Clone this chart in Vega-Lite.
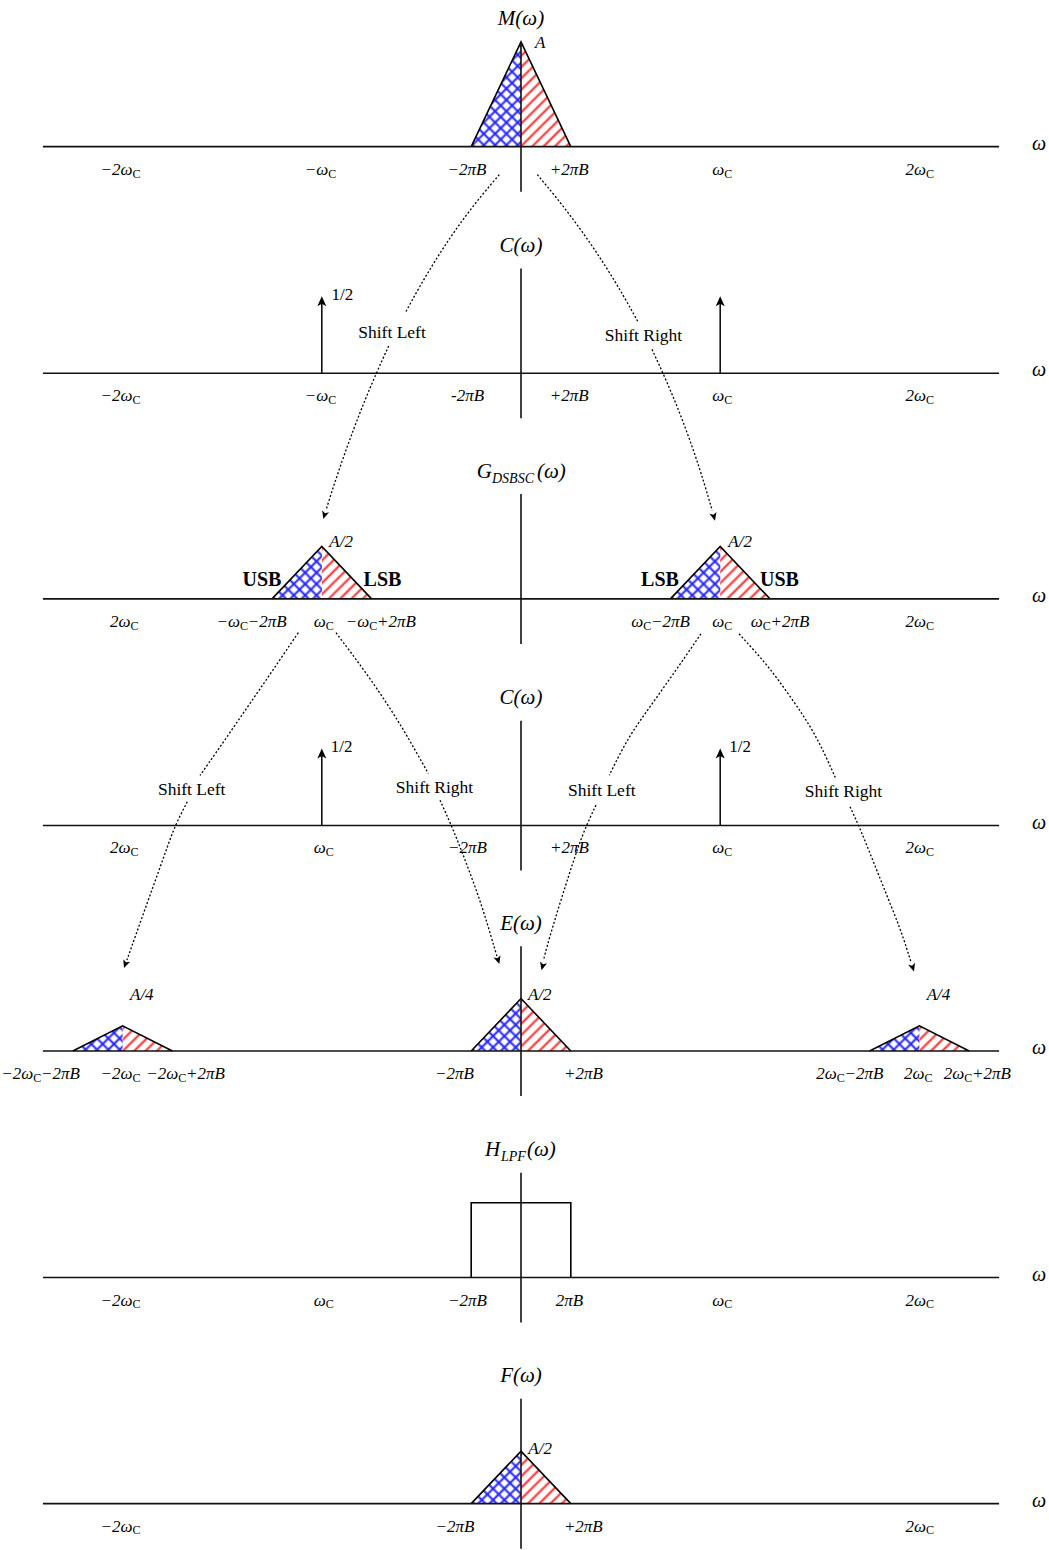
{
"$schema":"https://vega.github.io/schema/vega-lite/v6.json",
"width":1049,"height":1550,
"autosize":{"type":"fit","contains":"padding"},
"padding":0,
"background":"white",
"config":{"view":{"stroke":null}},
"datasets":{
"tri1":[{"id":"M","side":"L","x":-0.25,"y":12.948,"y2":12.948},{"id":"M","side":"L","x":0,"y":13.948,"y2":12.948},{"id":"M","side":"R","x":0,"y":13.948,"y2":12.948},{"id":"M","side":"R","x":0.25,"y":12.948,"y2":12.948}],
"tri2":[{"id":"GL","side":"L","x":-1.25,"y":8.633,"y2":8.633},{"id":"GL","side":"L","x":-1,"y":9.133,"y2":8.633},{"id":"GL","side":"R","x":-1,"y":9.133,"y2":8.633},{"id":"GL","side":"R","x":-0.75,"y":8.633,"y2":8.633},
{"id":"GR","side":"L","x":0.75,"y":8.633,"y2":8.633},{"id":"GR","side":"L","x":1,"y":9.133,"y2":8.633},{"id":"GR","side":"R","x":1,"y":9.133,"y2":8.633},{"id":"GR","side":"R","x":1.25,"y":8.633,"y2":8.633},
{"id":"E0","side":"L","x":-0.25,"y":4.319,"y2":4.319},{"id":"E0","side":"L","x":0,"y":4.819,"y2":4.319},{"id":"E0","side":"R","x":0,"y":4.819,"y2":4.319},{"id":"E0","side":"R","x":0.25,"y":4.319,"y2":4.319},
{"id":"F","side":"L","x":-0.25,"y":0,"y2":0},{"id":"F","side":"L","x":0,"y":0.5,"y2":0},{"id":"F","side":"R","x":0,"y":0.5,"y2":0},{"id":"F","side":"R","x":0.25,"y":0,"y2":0}],
"tri4":[{"id":"EL","side":"L","x":-2.25,"y":4.319,"y2":4.319},{"id":"EL","side":"L","x":-2,"y":4.559,"y2":4.319},{"id":"EL","side":"R","x":-2,"y":4.559,"y2":4.319},{"id":"EL","side":"R","x":-1.75,"y":4.319,"y2":4.319},
{"id":"ER","side":"L","x":1.75,"y":4.319,"y2":4.319},{"id":"ER","side":"L","x":2,"y":4.559,"y2":4.319},{"id":"ER","side":"R","x":2,"y":4.559,"y2":4.319},{"id":"ER","side":"R","x":2.25,"y":4.319,"y2":4.319}],
"outline":[
{"id":"M","seq":1,"x":-0.25,"y":12.948},{"id":"M","seq":2,"x":0,"y":13.948},{"id":"M","seq":3,"x":0.25,"y":12.948},
{"id":"GL","seq":1,"x":-1.25,"y":8.633},{"id":"GL","seq":2,"x":-1,"y":9.133},{"id":"GL","seq":3,"x":-0.75,"y":8.633},
{"id":"GR","seq":1,"x":0.75,"y":8.633},{"id":"GR","seq":2,"x":1,"y":9.133},{"id":"GR","seq":3,"x":1.25,"y":8.633},
{"id":"EL","seq":1,"x":-2.25,"y":4.319},{"id":"EL","seq":2,"x":-2,"y":4.559},{"id":"EL","seq":3,"x":-1.75,"y":4.319},
{"id":"E0","seq":1,"x":-0.25,"y":4.319},{"id":"E0","seq":2,"x":0,"y":4.819},{"id":"E0","seq":3,"x":0.25,"y":4.319},
{"id":"ER","seq":1,"x":1.75,"y":4.319},{"id":"ER","seq":2,"x":2,"y":4.559},{"id":"ER","seq":3,"x":2.25,"y":4.319},
{"id":"F","seq":1,"x":-0.25,"y":0},{"id":"F","seq":2,"x":0,"y":0.5},{"id":"F","seq":3,"x":0.25,"y":0},
{"id":"HB","seq":1,"x":-0.25,"y":2.157},{"id":"HB","seq":2,"x":-0.25,"y":2.871},{"id":"HB","seq":3,"x":0.25,"y":2.871},{"id":"HB","seq":4,"x":0.25,"y":2.157}],
"rules":[
{"x":-2.4,"x2":2.4,"y":12.948,"y2":12.948},{"x":-2.4,"x2":2.4,"y":10.786,"y2":10.786},{"x":-2.4,"x2":2.4,"y":8.633,"y2":8.633},{"x":-2.4,"x2":2.4,"y":6.471,"y2":6.471},{"x":-2.4,"x2":2.4,"y":4.319,"y2":4.319},{"x":-2.4,"x2":2.4,"y":2.157,"y2":2.157},{"x":-2.4,"x2":2.4,"y":0,"y2":0},
{"x":0,"x2":0,"y":12.518,"y2":13.948},{"x":0,"x2":0,"y":10.356,"y2":11.786},{"x":0,"x2":0,"y":8.203,"y2":9.633},{"x":0,"x2":0,"y":6.041,"y2":7.471},{"x":0,"x2":0,"y":3.889,"y2":5.319},{"x":0,"x2":0,"y":1.727,"y2":3.157},{"x":0,"x2":0,"y":-0.43,"y2":1.0},
{"x":-1,"x2":-1,"y":10.786,"y2":11.466},{"x":1,"x2":1,"y":10.786,"y2":11.466},{"x":-1,"x2":-1,"y":6.471,"y2":7.151},{"x":1,"x2":1,"y":6.471,"y2":7.151}],
"curves":[
{"id":"c1a","seq":1,"x":-0.1089,"y":12.681},{"id":"c1a","seq":2,"x":-0.1948,"y":12.49},{"id":"c1a","seq":3,"x":-0.2781,"y":12.288},{"id":"c1a","seq":4,"x":-0.3589,"y":12.072},{"id":"c1a","seq":5,"x":-0.4367,"y":11.844},{"id":"c1a","seq":6,"x":-0.512,"y":11.603},{"id":"c1a","seq":7,"x":-0.5803,"y":11.366},
{"id":"c1b","seq":1,"x":-0.6642,"y":11.046},{"id":"c1b","seq":2,"x":-0.7304,"y":10.77},{"id":"c1b","seq":3,"x":-0.7871,"y":10.513},{"id":"c1b","seq":4,"x":-0.8414,"y":10.249},{"id":"c1b","seq":5,"x":-0.8936,"y":9.974},{"id":"c1b","seq":6,"x":-0.9443,"y":9.69},{"id":"c1b","seq":7,"x":-0.9789,"y":9.48},
{"id":"c2a","seq":1,"x":0.0818,"y":12.681},{"id":"c2a","seq":2,"x":0.1782,"y":12.462},{"id":"c2a","seq":3,"x":0.2701,"y":12.235},{"id":"c2a","seq":4,"x":0.3579,"y":12.001},{"id":"c2a","seq":5,"x":0.4413,"y":11.758},{"id":"c2a","seq":6,"x":0.5201,"y":11.508},{"id":"c2a","seq":7,"x":0.5889,"y":11.271},
{"id":"c2b","seq":1,"x":0.6576,"y":11.014},{"id":"c2b","seq":2,"x":0.7229,"y":10.745},{"id":"c2b","seq":3,"x":0.7776,"y":10.499},{"id":"c2b","seq":4,"x":0.8288,"y":10.248},{"id":"c2b","seq":5,"x":0.877,"y":9.99},{"id":"c2b","seq":6,"x":0.9217,"y":9.727},{"id":"c2b","seq":7,"x":0.9598,"y":9.476},
{"id":"c3a","seq":1,"x":-1.118,"y":8.31},{"id":"c3a","seq":2,"x":-1.1998,"y":8.081},{"id":"c3a","seq":3,"x":-1.2801,"y":7.857},{"id":"c3a","seq":4,"x":-1.363,"y":7.629},{"id":"c3a","seq":5,"x":-1.4458,"y":7.4},{"id":"c3a","seq":6,"x":-1.5286,"y":7.171},{"id":"c3a","seq":7,"x":-1.6114,"y":6.948},
{"id":"c3b","seq":1,"x":-1.6752,"y":6.697},{"id":"c3b","seq":2,"x":-1.7369,"y":6.471},{"id":"c3b","seq":3,"x":-1.7781,"y":6.252},{"id":"c3b","seq":4,"x":-1.8228,"y":6.014},{"id":"c3b","seq":5,"x":-1.868,"y":5.776},{"id":"c3b","seq":6,"x":-1.9127,"y":5.538},{"id":"c3b","seq":7,"x":-1.9573,"y":5.3},{"id":"c3b","seq":8,"x":-1.9784,"y":5.186},
{"id":"c4a","seq":1,"x":-0.9287,"y":8.31},{"id":"c4a","seq":2,"x":-0.8584,"y":8.133},{"id":"c4a","seq":3,"x":-0.7882,"y":7.952},{"id":"c4a","seq":4,"x":-0.7179,"y":7.762},{"id":"c4a","seq":5,"x":-0.6501,"y":7.567},{"id":"c4a","seq":6,"x":-0.5848,"y":7.367},{"id":"c4a","seq":7,"x":-0.5246,"y":7.167},{"id":"c4a","seq":8,"x":-0.4654,"y":6.967},
{"id":"c4b","seq":1,"x":-0.4066,"y":6.712},{"id":"c4b","seq":2,"x":-0.3514,"y":6.481},{"id":"c4b","seq":3,"x":-0.3012,"y":6.243},{"id":"c4b","seq":4,"x":-0.2535,"y":6.005},{"id":"c4b","seq":5,"x":-0.2083,"y":5.767},{"id":"c4b","seq":6,"x":-0.1682,"y":5.529},{"id":"c4b","seq":7,"x":-0.133,"y":5.3},{"id":"c4b","seq":8,"x":-0.118,"y":5.205},
{"id":"c5a","seq":1,"x":0.9036,"y":8.3},{"id":"c5a","seq":2,"x":0.8434,"y":8.133},{"id":"c5a","seq":3,"x":0.7831,"y":7.967},{"id":"c5a","seq":4,"x":0.7229,"y":7.805},{"id":"c5a","seq":5,"x":0.6642,"y":7.648},{"id":"c5a","seq":6,"x":0.6049,"y":7.49},{"id":"c5a","seq":7,"x":0.5472,"y":7.329},{"id":"c5a","seq":8,"x":0.4945,"y":7.148},{"id":"c5a","seq":9,"x":0.4433,"y":6.95},
{"id":"c5b","seq":1,"x":0.3765,"y":6.665},{"id":"c5b","seq":2,"x":0.3213,"y":6.443},{"id":"c5b","seq":3,"x":0.2811,"y":6.233},{"id":"c5b","seq":4,"x":0.246,"y":6.03},{"id":"c5b","seq":5,"x":0.2033,"y":5.776},{"id":"c5b","seq":6,"x":0.1621,"y":5.522},{"id":"c5b","seq":7,"x":0.128,"y":5.3},{"id":"c5b","seq":8,"x":0.113,"y":5.186},
{"id":"c6a","seq":1,"x":1.0944,"y":8.3},{"id":"c6a","seq":2,"x":1.1722,"y":8.138},{"id":"c6a","seq":3,"x":1.25,"y":7.967},{"id":"c6a","seq":4,"x":1.3328,"y":7.752},{"id":"c6a","seq":5,"x":1.4172,"y":7.522},{"id":"c6a","seq":6,"x":1.4784,"y":7.329},{"id":"c6a","seq":7,"x":1.5311,"y":7.129},{"id":"c6a","seq":8,"x":1.5798,"y":6.919},
{"id":"c6b","seq":1,"x":1.6516,"y":6.65},{"id":"c6b","seq":2,"x":1.7018,"y":6.443},{"id":"c6b","seq":3,"x":1.752,"y":6.205},{"id":"c6b","seq":4,"x":1.8022,"y":5.967},{"id":"c6b","seq":5,"x":1.8524,"y":5.729},{"id":"c6b","seq":6,"x":1.9026,"y":5.49},{"id":"c6b","seq":7,"x":1.9378,"y":5.29},{"id":"c6b","seq":8,"x":1.9578,"y":5.167}],
"heads":[
{"kind":"imp","x":-1,"y":11.521,"heading":0},{"kind":"imp","x":1,"y":11.521,"heading":0},{"kind":"imp","x":-1,"y":7.206,"heading":0},{"kind":"imp","x":1,"y":7.206,"heading":0},
{"kind":"cur","x":-0.9925,"y":9.395,"heading":196.7},{"kind":"cur","x":0.9739,"y":9.379,"heading":165},{"kind":"cur","x":-1.993,"y":5.11,"heading":199.6},{"kind":"cur","x":-0.1089,"y":5.148,"heading":163.3},{"kind":"cur","x":0.1029,"y":5.09,"heading":195},{"kind":"cur","x":1.9729,"y":5.078,"heading":162.3}],
"texts":[
{"role":"title","x":0,"y":14.105,"label":"M(ω)"},{"role":"title","x":0,"y":11.943,"label":"C(ω)"},{"role":"title","x":0,"y":7.628,"label":"C(ω)"},{"role":"title","x":0,"y":5.476,"label":"E(ω)"},{"role":"title","x":0,"y":1.157,"label":"F(ω)"},
{"role":"tpart","x":-0.2224,"y":9.79,"label":"G"},{"role":"tpart","x":0.0803,"y":9.79,"label":"(ω)"},{"role":"tpart","x":-0.1807,"y":3.314,"label":"H"},{"role":"tpart","x":0.0301,"y":3.314,"label":"(ω)"},
{"role":"tsub","x":-0.1456,"y":9.742,"label":"DSBSC"},{"role":"tsub","x":-0.1004,"y":3.266,"label":"LPF"},
{"role":"pre","x":-1.9503,"y":12.681,"label":"−2ω"},{"role":"sub","x":-1.9503,"y":12.653,"label":"C"},
{"role":"pre","x":-0.9674,"y":12.681,"label":"−ω"},{"role":"sub","x":-0.9674,"y":12.653,"label":"C"},
{"role":"tick","x":-0.2711,"y":12.681,"label":"−2πB"},{"role":"tick","x":0.2425,"y":12.681,"label":"+2πB"},
{"role":"pre","x":1.0201,"y":12.681,"label":"ω"},{"role":"sub","x":1.0201,"y":12.653,"label":"C"},
{"role":"pre","x":2.0331,"y":12.681,"label":"2ω"},{"role":"sub","x":2.0331,"y":12.653,"label":"C"},
{"role":"pre","x":-1.9503,"y":10.519,"label":"−2ω"},{"role":"sub","x":-1.9503,"y":10.491,"label":"C"},
{"role":"pre","x":-0.9674,"y":10.519,"label":"−ω"},{"role":"sub","x":-0.9674,"y":10.491,"label":"C"},
{"role":"tick","x":-0.2686,"y":10.519,"label":"-2πB"},{"role":"tick","x":0.2425,"y":10.519,"label":"+2πB"},
{"role":"pre","x":1.0201,"y":10.519,"label":"ω"},{"role":"sub","x":1.0201,"y":10.491,"label":"C"},
{"role":"pre","x":2.0331,"y":10.519,"label":"2ω"},{"role":"sub","x":2.0331,"y":10.491,"label":"C"},
{"role":"pre","x":-1.9604,"y":8.366,"label":"2ω"},{"role":"sub","x":-1.9604,"y":8.338,"label":"C"},
{"role":"pre","x":-1.4106,"y":8.366,"label":"−ω"},{"role":"sub","x":-1.4106,"y":8.338,"label":"C"},{"role":"post","x":-1.3716,"y":8.366,"label":"−2πB"},
{"role":"pre","x":-0.9799,"y":8.366,"label":"ω"},{"role":"sub","x":-0.9799,"y":8.338,"label":"C"},
{"role":"pre","x":-0.7615,"y":8.366,"label":"−ω"},{"role":"sub","x":-0.7615,"y":8.338,"label":"C"},{"role":"post","x":-0.7225,"y":8.366,"label":"+2πB"},
{"role":"pre","x":0.6139,"y":8.366,"label":"ω"},{"role":"sub","x":0.6139,"y":8.338,"label":"C"},{"role":"post","x":0.6529,"y":8.366,"label":"−2πB"},
{"role":"pre","x":1.0201,"y":8.366,"label":"ω"},{"role":"sub","x":1.0201,"y":8.338,"label":"C"},
{"role":"pre","x":1.2134,"y":8.366,"label":"ω"},{"role":"sub","x":1.2134,"y":8.338,"label":"C"},{"role":"post","x":1.2524,"y":8.366,"label":"+2πB"},
{"role":"pre","x":2.0331,"y":8.366,"label":"2ω"},{"role":"sub","x":2.0331,"y":8.338,"label":"C"},
{"role":"pre","x":-1.9604,"y":6.204,"label":"2ω"},{"role":"sub","x":-1.9604,"y":6.176,"label":"C"},
{"role":"pre","x":-0.9799,"y":6.204,"label":"ω"},{"role":"sub","x":-0.9799,"y":6.176,"label":"C"},
{"role":"tick","x":-0.2686,"y":6.204,"label":"−2πB"},{"role":"tick","x":0.2435,"y":6.204,"label":"+2πB"},
{"role":"pre","x":1.0201,"y":6.204,"label":"ω"},{"role":"sub","x":1.0201,"y":6.176,"label":"C"},
{"role":"pre","x":2.0331,"y":6.204,"label":"2ω"},{"role":"sub","x":2.0331,"y":6.176,"label":"C"},
{"role":"pre","x":-2.4483,"y":4.052,"label":"−2ω"},{"role":"sub","x":-2.4483,"y":4.024,"label":"C"},{"role":"post","x":-2.4093,"y":4.052,"label":"−2πB"},
{"role":"pre","x":-1.9503,"y":4.052,"label":"−2ω"},{"role":"sub","x":-1.9503,"y":4.024,"label":"C"},
{"role":"pre","x":-1.7204,"y":4.052,"label":"−2ω"},{"role":"sub","x":-1.7204,"y":4.024,"label":"C"},{"role":"post","x":-1.6814,"y":4.052,"label":"+2πB"},
{"role":"tick","x":-0.3338,"y":4.052,"label":"−2πB"},{"role":"tick","x":0.3138,"y":4.052,"label":"+2πB"},
{"role":"pre","x":1.5848,"y":4.052,"label":"2ω"},{"role":"sub","x":1.5848,"y":4.024,"label":"C"},{"role":"post","x":1.6238,"y":4.052,"label":"−2πB"},
{"role":"pre","x":2.0251,"y":4.052,"label":"2ω"},{"role":"sub","x":2.0251,"y":4.024,"label":"C"},
{"role":"pre","x":2.2254,"y":4.052,"label":"2ω"},{"role":"sub","x":2.2254,"y":4.024,"label":"C"},{"role":"post","x":2.2644,"y":4.052,"label":"+2πB"},
{"role":"pre","x":-1.9503,"y":1.89,"label":"−2ω"},{"role":"sub","x":-1.9503,"y":1.862,"label":"C"},
{"role":"pre","x":-0.9799,"y":1.89,"label":"ω"},{"role":"sub","x":-0.9799,"y":1.862,"label":"C"},
{"role":"tick","x":-0.2686,"y":1.89,"label":"−2πB"},{"role":"tick","x":0.2435,"y":1.89,"label":"2πB"},
{"role":"pre","x":1.0201,"y":1.89,"label":"ω"},{"role":"sub","x":1.0201,"y":1.862,"label":"C"},
{"role":"pre","x":2.0331,"y":1.89,"label":"2ω"},{"role":"sub","x":2.0331,"y":1.862,"label":"C"},
{"role":"pre","x":-1.9503,"y":-0.267,"label":"−2ω"},{"role":"sub","x":-1.9503,"y":-0.295,"label":"C"},
{"role":"tick","x":-0.3313,"y":-0.267,"label":"−2πB"},{"role":"tick","x":0.3128,"y":-0.267,"label":"+2πB"},
{"role":"pre","x":2.0331,"y":-0.267,"label":"2ω"},{"role":"sub","x":2.0331,"y":-0.295,"label":"C"},
{"role":"amp","x":0.0703,"y":13.888,"label":"A"},{"role":"amp","x":-0.9624,"y":9.126,"label":"A/2"},{"role":"amp","x":1.0407,"y":9.126,"label":"A/2"},{"role":"amp","x":-1.9629,"y":4.808,"label":"A/4"},{"role":"amp","x":0.0351,"y":4.805,"label":"A/2"},{"role":"amp","x":2.0367,"y":4.808,"label":"A/4"},{"role":"amp","x":0.0366,"y":0.474,"label":"A/2"},
{"role":"half","x":-0.9508,"y":11.484,"label":"1/2"},{"role":"half","x":-0.9553,"y":7.173,"label":"1/2"},{"role":"half","x":1.0457,"y":7.173,"label":"1/2"},
{"role":"shift","x":-0.6476,"y":11.119,"label":"Shift Left"},{"role":"shift","x":0.615,"y":11.09,"label":"Shift Right"},{"role":"shift","x":-1.6531,"y":6.757,"label":"Shift Left"},{"role":"shift","x":-0.4342,"y":6.776,"label":"Shift Right"},{"role":"shift","x":0.4056,"y":6.75,"label":"Shift Left"},{"role":"shift","x":1.619,"y":6.738,"label":"Shift Right"},
{"role":"band","x":-1.3002,"y":8.76,"label":"USB"},{"role":"band","x":-0.6953,"y":8.76,"label":"LSB"},{"role":"band","x":0.6978,"y":8.76,"label":"LSB"},{"role":"band","x":1.2977,"y":8.76,"label":"USB"},
{"role":"omega","x":2.6004,"y":12.918,"label":"ω"},{"role":"omega","x":2.6004,"y":10.756,"label":"ω"},{"role":"omega","x":2.6004,"y":8.603,"label":"ω"},{"role":"omega","x":2.6004,"y":6.441,"label":"ω"},{"role":"omega","x":2.6004,"y":4.289,"label":"ω"},{"role":"omega","x":2.6004,"y":2.127,"label":"ω"},{"role":"omega","x":2.6004,"y":-0.03,"label":"ω"}]
},
"encoding":{
"x":{"field":"x","type":"quantitative","scale":{"domain":[-2.6155,2.6506],"nice":false,"zero":false},"axis":null},
"y":{"field":"y","type":"quantitative","scale":{"domain":[-0.4143,14.3476],"nice":false,"zero":false},"axis":null}
},
"layer":[
{"data":{"name":"tri1"},"transform":[{"filter":"datum.side === 'L'"}],"mark":{"type":"area","opacity":1,"fill":{"gradient":"linear","x1":0,"y1":0,"x2":0.5841,"y2":1.2315,"stops":[{"offset":0,"color":"rgba(36,36,255,0)"},{"offset":0.018,"color":"#2424ff"},{"offset":0.036,"color":"rgba(36,36,255,0)"},{"offset":0.0714,"color":"rgba(36,36,255,0)"},{"offset":0.0894,"color":"#2424ff"},{"offset":0.1074,"color":"rgba(36,36,255,0)"},{"offset":0.1429,"color":"rgba(36,36,255,0)"},{"offset":0.1609,"color":"#2424ff"},{"offset":0.1789,"color":"rgba(36,36,255,0)"},{"offset":0.2143,"color":"rgba(36,36,255,0)"},{"offset":0.2323,"color":"#2424ff"},{"offset":0.2503,"color":"rgba(36,36,255,0)"},{"offset":0.2857,"color":"rgba(36,36,255,0)"},{"offset":0.3037,"color":"#2424ff"},{"offset":0.3217,"color":"rgba(36,36,255,0)"},{"offset":0.3571,"color":"rgba(36,36,255,0)"},{"offset":0.3751,"color":"#2424ff"},{"offset":0.3931,"color":"rgba(36,36,255,0)"},{"offset":0.4286,"color":"rgba(36,36,255,0)"},{"offset":0.4466,"color":"#2424ff"},{"offset":0.4646,"color":"rgba(36,36,255,0)"},{"offset":0.5,"color":"rgba(36,36,255,0)"},{"offset":0.518,"color":"#2424ff"},{"offset":0.536,"color":"rgba(36,36,255,0)"},{"offset":0.5714,"color":"rgba(36,36,255,0)"},{"offset":0.5894,"color":"#2424ff"},{"offset":0.6074,"color":"rgba(36,36,255,0)"},{"offset":0.6429,"color":"rgba(36,36,255,0)"},{"offset":0.6609,"color":"#2424ff"},{"offset":0.6789,"color":"rgba(36,36,255,0)"},{"offset":0.7143,"color":"rgba(36,36,255,0)"},{"offset":0.7323,"color":"#2424ff"},{"offset":0.7503,"color":"rgba(36,36,255,0)"},{"offset":0.7857,"color":"rgba(36,36,255,0)"},{"offset":0.8037,"color":"#2424ff"},{"offset":0.8217,"color":"rgba(36,36,255,0)"},{"offset":0.8571,"color":"rgba(36,36,255,0)"},{"offset":0.8751,"color":"#2424ff"},{"offset":0.8931,"color":"rgba(36,36,255,0)"},{"offset":0.9286,"color":"rgba(36,36,255,0)"},{"offset":0.9466,"color":"#2424ff"},{"offset":0.9646,"color":"rgba(36,36,255,0)"}]}},"encoding":{"y2":{"field":"y2"},"detail":{"field":"id","type":"nominal"}}},
{"data":{"name":"tri1"},"transform":[{"filter":"datum.side === 'L'"}],"mark":{"type":"area","opacity":1,"fill":{"gradient":"linear","x1":0,"y1":1,"x2":0.5841,"y2":-0.2315,"stops":[{"offset":0,"color":"rgba(36,36,255,0)"},{"offset":0.018,"color":"#2424ff"},{"offset":0.036,"color":"rgba(36,36,255,0)"},{"offset":0.0714,"color":"rgba(36,36,255,0)"},{"offset":0.0894,"color":"#2424ff"},{"offset":0.1074,"color":"rgba(36,36,255,0)"},{"offset":0.1429,"color":"rgba(36,36,255,0)"},{"offset":0.1609,"color":"#2424ff"},{"offset":0.1789,"color":"rgba(36,36,255,0)"},{"offset":0.2143,"color":"rgba(36,36,255,0)"},{"offset":0.2323,"color":"#2424ff"},{"offset":0.2503,"color":"rgba(36,36,255,0)"},{"offset":0.2857,"color":"rgba(36,36,255,0)"},{"offset":0.3037,"color":"#2424ff"},{"offset":0.3217,"color":"rgba(36,36,255,0)"},{"offset":0.3571,"color":"rgba(36,36,255,0)"},{"offset":0.3751,"color":"#2424ff"},{"offset":0.3931,"color":"rgba(36,36,255,0)"},{"offset":0.4286,"color":"rgba(36,36,255,0)"},{"offset":0.4466,"color":"#2424ff"},{"offset":0.4646,"color":"rgba(36,36,255,0)"},{"offset":0.5,"color":"rgba(36,36,255,0)"},{"offset":0.518,"color":"#2424ff"},{"offset":0.536,"color":"rgba(36,36,255,0)"},{"offset":0.5714,"color":"rgba(36,36,255,0)"},{"offset":0.5894,"color":"#2424ff"},{"offset":0.6074,"color":"rgba(36,36,255,0)"},{"offset":0.6429,"color":"rgba(36,36,255,0)"},{"offset":0.6609,"color":"#2424ff"},{"offset":0.6789,"color":"rgba(36,36,255,0)"},{"offset":0.7143,"color":"rgba(36,36,255,0)"},{"offset":0.7323,"color":"#2424ff"},{"offset":0.7503,"color":"rgba(36,36,255,0)"},{"offset":0.7857,"color":"rgba(36,36,255,0)"},{"offset":0.8037,"color":"#2424ff"},{"offset":0.8217,"color":"rgba(36,36,255,0)"},{"offset":0.8571,"color":"rgba(36,36,255,0)"},{"offset":0.8751,"color":"#2424ff"},{"offset":0.8931,"color":"rgba(36,36,255,0)"},{"offset":0.9286,"color":"rgba(36,36,255,0)"},{"offset":0.9466,"color":"#2424ff"},{"offset":0.9646,"color":"rgba(36,36,255,0)"}]}},"encoding":{"y2":{"field":"y2"},"detail":{"field":"id","type":"nominal"}}},
{"data":{"name":"tri1"},"transform":[{"filter":"datum.side === 'R'"}],"mark":{"type":"area","opacity":1,"fill":{"gradient":"linear","x1":0,"y1":0,"x2":0.5841,"y2":1.2315,"stops":[{"offset":0,"color":"rgba(255,42,42,0)"},{"offset":0.018,"color":"#ff2a2a"},{"offset":0.036,"color":"rgba(255,42,42,0)"},{"offset":0.0714,"color":"rgba(255,42,42,0)"},{"offset":0.0894,"color":"#ff2a2a"},{"offset":0.1074,"color":"rgba(255,42,42,0)"},{"offset":0.1429,"color":"rgba(255,42,42,0)"},{"offset":0.1609,"color":"#ff2a2a"},{"offset":0.1789,"color":"rgba(255,42,42,0)"},{"offset":0.2143,"color":"rgba(255,42,42,0)"},{"offset":0.2323,"color":"#ff2a2a"},{"offset":0.2503,"color":"rgba(255,42,42,0)"},{"offset":0.2857,"color":"rgba(255,42,42,0)"},{"offset":0.3037,"color":"#ff2a2a"},{"offset":0.3217,"color":"rgba(255,42,42,0)"},{"offset":0.3571,"color":"rgba(255,42,42,0)"},{"offset":0.3751,"color":"#ff2a2a"},{"offset":0.3931,"color":"rgba(255,42,42,0)"},{"offset":0.4286,"color":"rgba(255,42,42,0)"},{"offset":0.4466,"color":"#ff2a2a"},{"offset":0.4646,"color":"rgba(255,42,42,0)"},{"offset":0.5,"color":"rgba(255,42,42,0)"},{"offset":0.518,"color":"#ff2a2a"},{"offset":0.536,"color":"rgba(255,42,42,0)"},{"offset":0.5714,"color":"rgba(255,42,42,0)"},{"offset":0.5894,"color":"#ff2a2a"},{"offset":0.6074,"color":"rgba(255,42,42,0)"},{"offset":0.6429,"color":"rgba(255,42,42,0)"},{"offset":0.6609,"color":"#ff2a2a"},{"offset":0.6789,"color":"rgba(255,42,42,0)"},{"offset":0.7143,"color":"rgba(255,42,42,0)"},{"offset":0.7323,"color":"#ff2a2a"},{"offset":0.7503,"color":"rgba(255,42,42,0)"},{"offset":0.7857,"color":"rgba(255,42,42,0)"},{"offset":0.8037,"color":"#ff2a2a"},{"offset":0.8217,"color":"rgba(255,42,42,0)"},{"offset":0.8571,"color":"rgba(255,42,42,0)"},{"offset":0.8751,"color":"#ff2a2a"},{"offset":0.8931,"color":"rgba(255,42,42,0)"},{"offset":0.9286,"color":"rgba(255,42,42,0)"},{"offset":0.9466,"color":"#ff2a2a"},{"offset":0.9646,"color":"rgba(255,42,42,0)"}]}},"encoding":{"y2":{"field":"y2"},"detail":{"field":"id","type":"nominal"}}},
{"data":{"name":"tri2"},"transform":[{"filter":"datum.side === 'L'"}],"mark":{"type":"area","opacity":1,"fill":{"gradient":"linear","x1":0,"y1":0,"x2":1.5065,"y2":1.5881,"stops":[{"offset":0,"color":"rgba(36,36,255,0)"},{"offset":0.018,"color":"#2424ff"},{"offset":0.036,"color":"rgba(36,36,255,0)"},{"offset":0.0714,"color":"rgba(36,36,255,0)"},{"offset":0.0894,"color":"#2424ff"},{"offset":0.1074,"color":"rgba(36,36,255,0)"},{"offset":0.1429,"color":"rgba(36,36,255,0)"},{"offset":0.1609,"color":"#2424ff"},{"offset":0.1789,"color":"rgba(36,36,255,0)"},{"offset":0.2143,"color":"rgba(36,36,255,0)"},{"offset":0.2323,"color":"#2424ff"},{"offset":0.2503,"color":"rgba(36,36,255,0)"},{"offset":0.2857,"color":"rgba(36,36,255,0)"},{"offset":0.3037,"color":"#2424ff"},{"offset":0.3217,"color":"rgba(36,36,255,0)"},{"offset":0.3571,"color":"rgba(36,36,255,0)"},{"offset":0.3751,"color":"#2424ff"},{"offset":0.3931,"color":"rgba(36,36,255,0)"},{"offset":0.4286,"color":"rgba(36,36,255,0)"},{"offset":0.4466,"color":"#2424ff"},{"offset":0.4646,"color":"rgba(36,36,255,0)"},{"offset":0.5,"color":"rgba(36,36,255,0)"},{"offset":0.518,"color":"#2424ff"},{"offset":0.536,"color":"rgba(36,36,255,0)"},{"offset":0.5714,"color":"rgba(36,36,255,0)"},{"offset":0.5894,"color":"#2424ff"},{"offset":0.6074,"color":"rgba(36,36,255,0)"},{"offset":0.6429,"color":"rgba(36,36,255,0)"},{"offset":0.6609,"color":"#2424ff"},{"offset":0.6789,"color":"rgba(36,36,255,0)"}]}},"encoding":{"y2":{"field":"y2"},"detail":{"field":"id","type":"nominal"}}},
{"data":{"name":"tri2"},"transform":[{"filter":"datum.side === 'L'"}],"mark":{"type":"area","opacity":1,"fill":{"gradient":"linear","x1":0,"y1":1,"x2":1.5065,"y2":-0.5881,"stops":[{"offset":0,"color":"rgba(36,36,255,0)"},{"offset":0.018,"color":"#2424ff"},{"offset":0.036,"color":"rgba(36,36,255,0)"},{"offset":0.0714,"color":"rgba(36,36,255,0)"},{"offset":0.0894,"color":"#2424ff"},{"offset":0.1074,"color":"rgba(36,36,255,0)"},{"offset":0.1429,"color":"rgba(36,36,255,0)"},{"offset":0.1609,"color":"#2424ff"},{"offset":0.1789,"color":"rgba(36,36,255,0)"},{"offset":0.2143,"color":"rgba(36,36,255,0)"},{"offset":0.2323,"color":"#2424ff"},{"offset":0.2503,"color":"rgba(36,36,255,0)"},{"offset":0.2857,"color":"rgba(36,36,255,0)"},{"offset":0.3037,"color":"#2424ff"},{"offset":0.3217,"color":"rgba(36,36,255,0)"},{"offset":0.3571,"color":"rgba(36,36,255,0)"},{"offset":0.3751,"color":"#2424ff"},{"offset":0.3931,"color":"rgba(36,36,255,0)"},{"offset":0.4286,"color":"rgba(36,36,255,0)"},{"offset":0.4466,"color":"#2424ff"},{"offset":0.4646,"color":"rgba(36,36,255,0)"},{"offset":0.5,"color":"rgba(36,36,255,0)"},{"offset":0.518,"color":"#2424ff"},{"offset":0.536,"color":"rgba(36,36,255,0)"},{"offset":0.5714,"color":"rgba(36,36,255,0)"},{"offset":0.5894,"color":"#2424ff"},{"offset":0.6074,"color":"rgba(36,36,255,0)"},{"offset":0.6429,"color":"rgba(36,36,255,0)"},{"offset":0.6609,"color":"#2424ff"},{"offset":0.6789,"color":"rgba(36,36,255,0)"}]}},"encoding":{"y2":{"field":"y2"},"detail":{"field":"id","type":"nominal"}}},
{"data":{"name":"tri2"},"transform":[{"filter":"datum.side === 'R'"}],"mark":{"type":"area","opacity":1,"fill":{"gradient":"linear","x1":0,"y1":0,"x2":1.5065,"y2":1.5881,"stops":[{"offset":0,"color":"rgba(255,42,42,0)"},{"offset":0.018,"color":"#ff2a2a"},{"offset":0.036,"color":"rgba(255,42,42,0)"},{"offset":0.0714,"color":"rgba(255,42,42,0)"},{"offset":0.0894,"color":"#ff2a2a"},{"offset":0.1074,"color":"rgba(255,42,42,0)"},{"offset":0.1429,"color":"rgba(255,42,42,0)"},{"offset":0.1609,"color":"#ff2a2a"},{"offset":0.1789,"color":"rgba(255,42,42,0)"},{"offset":0.2143,"color":"rgba(255,42,42,0)"},{"offset":0.2323,"color":"#ff2a2a"},{"offset":0.2503,"color":"rgba(255,42,42,0)"},{"offset":0.2857,"color":"rgba(255,42,42,0)"},{"offset":0.3037,"color":"#ff2a2a"},{"offset":0.3217,"color":"rgba(255,42,42,0)"},{"offset":0.3571,"color":"rgba(255,42,42,0)"},{"offset":0.3751,"color":"#ff2a2a"},{"offset":0.3931,"color":"rgba(255,42,42,0)"},{"offset":0.4286,"color":"rgba(255,42,42,0)"},{"offset":0.4466,"color":"#ff2a2a"},{"offset":0.4646,"color":"rgba(255,42,42,0)"},{"offset":0.5,"color":"rgba(255,42,42,0)"},{"offset":0.518,"color":"#ff2a2a"},{"offset":0.536,"color":"rgba(255,42,42,0)"},{"offset":0.5714,"color":"rgba(255,42,42,0)"},{"offset":0.5894,"color":"#ff2a2a"},{"offset":0.6074,"color":"rgba(255,42,42,0)"},{"offset":0.6429,"color":"rgba(255,42,42,0)"},{"offset":0.6609,"color":"#ff2a2a"},{"offset":0.6789,"color":"rgba(255,42,42,0)"}]}},"encoding":{"y2":{"field":"y2"},"detail":{"field":"id","type":"nominal"}}},
{"data":{"name":"tri4"},"transform":[{"filter":"datum.side === 'L'"}],"mark":{"type":"area","opacity":1,"fill":{"gradient":"linear","x1":0,"y1":0,"x2":2.5322,"y2":1.2814,"stops":[{"offset":0,"color":"rgba(36,36,255,0)"},{"offset":0.018,"color":"#2424ff"},{"offset":0.036,"color":"rgba(36,36,255,0)"},{"offset":0.0714,"color":"rgba(36,36,255,0)"},{"offset":0.0894,"color":"#2424ff"},{"offset":0.1074,"color":"rgba(36,36,255,0)"},{"offset":0.1429,"color":"rgba(36,36,255,0)"},{"offset":0.1609,"color":"#2424ff"},{"offset":0.1789,"color":"rgba(36,36,255,0)"},{"offset":0.2143,"color":"rgba(36,36,255,0)"},{"offset":0.2323,"color":"#2424ff"},{"offset":0.2503,"color":"rgba(36,36,255,0)"},{"offset":0.2857,"color":"rgba(36,36,255,0)"},{"offset":0.3037,"color":"#2424ff"},{"offset":0.3217,"color":"rgba(36,36,255,0)"},{"offset":0.3571,"color":"rgba(36,36,255,0)"},{"offset":0.3751,"color":"#2424ff"},{"offset":0.3931,"color":"rgba(36,36,255,0)"},{"offset":0.4286,"color":"rgba(36,36,255,0)"},{"offset":0.4466,"color":"#2424ff"},{"offset":0.4646,"color":"rgba(36,36,255,0)"}]}},"encoding":{"y2":{"field":"y2"},"detail":{"field":"id","type":"nominal"}}},
{"data":{"name":"tri4"},"transform":[{"filter":"datum.side === 'L'"}],"mark":{"type":"area","opacity":1,"fill":{"gradient":"linear","x1":0,"y1":1,"x2":2.5322,"y2":-0.2814,"stops":[{"offset":0,"color":"rgba(36,36,255,0)"},{"offset":0.018,"color":"#2424ff"},{"offset":0.036,"color":"rgba(36,36,255,0)"},{"offset":0.0714,"color":"rgba(36,36,255,0)"},{"offset":0.0894,"color":"#2424ff"},{"offset":0.1074,"color":"rgba(36,36,255,0)"},{"offset":0.1429,"color":"rgba(36,36,255,0)"},{"offset":0.1609,"color":"#2424ff"},{"offset":0.1789,"color":"rgba(36,36,255,0)"},{"offset":0.2143,"color":"rgba(36,36,255,0)"},{"offset":0.2323,"color":"#2424ff"},{"offset":0.2503,"color":"rgba(36,36,255,0)"},{"offset":0.2857,"color":"rgba(36,36,255,0)"},{"offset":0.3037,"color":"#2424ff"},{"offset":0.3217,"color":"rgba(36,36,255,0)"},{"offset":0.3571,"color":"rgba(36,36,255,0)"},{"offset":0.3751,"color":"#2424ff"},{"offset":0.3931,"color":"rgba(36,36,255,0)"},{"offset":0.4286,"color":"rgba(36,36,255,0)"},{"offset":0.4466,"color":"#2424ff"},{"offset":0.4646,"color":"rgba(36,36,255,0)"}]}},"encoding":{"y2":{"field":"y2"},"detail":{"field":"id","type":"nominal"}}},
{"data":{"name":"tri4"},"transform":[{"filter":"datum.side === 'R'"}],"mark":{"type":"area","opacity":1,"fill":{"gradient":"linear","x1":0,"y1":0,"x2":2.5322,"y2":1.2814,"stops":[{"offset":0,"color":"rgba(255,42,42,0)"},{"offset":0.018,"color":"#ff2a2a"},{"offset":0.036,"color":"rgba(255,42,42,0)"},{"offset":0.0714,"color":"rgba(255,42,42,0)"},{"offset":0.0894,"color":"#ff2a2a"},{"offset":0.1074,"color":"rgba(255,42,42,0)"},{"offset":0.1429,"color":"rgba(255,42,42,0)"},{"offset":0.1609,"color":"#ff2a2a"},{"offset":0.1789,"color":"rgba(255,42,42,0)"},{"offset":0.2143,"color":"rgba(255,42,42,0)"},{"offset":0.2323,"color":"#ff2a2a"},{"offset":0.2503,"color":"rgba(255,42,42,0)"},{"offset":0.2857,"color":"rgba(255,42,42,0)"},{"offset":0.3037,"color":"#ff2a2a"},{"offset":0.3217,"color":"rgba(255,42,42,0)"},{"offset":0.3571,"color":"rgba(255,42,42,0)"},{"offset":0.3751,"color":"#ff2a2a"},{"offset":0.3931,"color":"rgba(255,42,42,0)"},{"offset":0.4286,"color":"rgba(255,42,42,0)"},{"offset":0.4466,"color":"#ff2a2a"},{"offset":0.4646,"color":"rgba(255,42,42,0)"}]}},"encoding":{"y2":{"field":"y2"},"detail":{"field":"id","type":"nominal"}}},
{"data":{"name":"outline"},"mark":{"type":"line","color":"#000","strokeWidth":1.6,"strokeJoin":"miter"},"encoding":{"detail":{"field":"id","type":"nominal"},"order":{"field":"seq","type":"quantitative"}}},
{"data":{"name":"rules"},"mark":{"type":"rule","color":"#111","strokeWidth":1.6},"encoding":{"x2":{"field":"x2"},"y2":{"field":"y2"}}},
{"data":{"name":"curves"},"mark":{"type":"line","color":"#000","strokeWidth":1.3,"strokeDash":[2,2],"interpolate":"basis"},"encoding":{"detail":{"field":"id","type":"nominal"},"order":{"field":"seq","type":"quantitative"}}},
{"data":{"name":"heads"},"transform":[{"filter":"datum.kind === 'imp'"}],"mark":{"type":"point","shape":"M0,0L-0.45,1L0,0.75L0.45,1Z","filled":true,"color":"#000","opacity":1,"size":400,"strokeWidth":0},"encoding":{"angle":{"field":"heading","type":"quantitative","scale":{"domain":[0,360],"range":[0,360]}}}},
{"data":{"name":"heads"},"transform":[{"filter":"datum.kind === 'cur'"}],"mark":{"type":"point","shape":"M0,0L-0.45,1L0,0.75L0.45,1Z","filled":true,"color":"#000","opacity":1,"size":260,"strokeWidth":0},"encoding":{"angle":{"field":"heading","type":"quantitative","scale":{"domain":[0,360],"range":[0,360]}}}},
{"data":{"name":"texts"},"transform":[{"filter":"datum.role === 'title'"}],"mark":{"type":"text","align":"center","baseline":"alphabetic","font":"Liberation Serif","fontStyle":"italic","fontSize":21,"color":"#000"},"encoding":{"text":{"field":"label"}}},
{"data":{"name":"texts"},"transform":[{"filter":"datum.role === 'tpart'"}],"mark":{"type":"text","align":"left","baseline":"alphabetic","font":"Liberation Serif","fontStyle":"italic","fontSize":21,"color":"#000"},"encoding":{"text":{"field":"label"}}},
{"data":{"name":"texts"},"transform":[{"filter":"datum.role === 'tsub'"}],"mark":{"type":"text","align":"left","baseline":"alphabetic","font":"Liberation Serif","fontStyle":"italic","fontSize":14,"color":"#000"},"encoding":{"text":{"field":"label"}}},
{"data":{"name":"texts"},"transform":[{"filter":"datum.role === 'tick'"}],"mark":{"type":"text","align":"center","baseline":"alphabetic","font":"Liberation Serif","fontStyle":"italic","fontSize":17,"color":"#000"},"encoding":{"text":{"field":"label"}}},
{"data":{"name":"texts"},"transform":[{"filter":"datum.role === 'pre'"}],"mark":{"type":"text","align":"right","baseline":"alphabetic","font":"Liberation Serif","fontStyle":"italic","fontSize":17,"color":"#000"},"encoding":{"text":{"field":"label"}}},
{"data":{"name":"texts"},"transform":[{"filter":"datum.role === 'sub'"}],"mark":{"type":"text","align":"left","baseline":"alphabetic","font":"Liberation Serif","fontSize":12,"color":"#000"},"encoding":{"text":{"field":"label"}}},
{"data":{"name":"texts"},"transform":[{"filter":"datum.role === 'post'"}],"mark":{"type":"text","align":"left","baseline":"alphabetic","font":"Liberation Serif","fontStyle":"italic","fontSize":17,"color":"#000"},"encoding":{"text":{"field":"label"}}},
{"data":{"name":"texts"},"transform":[{"filter":"datum.role === 'amp'"}],"mark":{"type":"text","align":"left","baseline":"alphabetic","font":"Liberation Serif","fontStyle":"italic","fontSize":17,"color":"#000"},"encoding":{"text":{"field":"label"}}},
{"data":{"name":"texts"},"transform":[{"filter":"datum.role === 'half'"}],"mark":{"type":"text","align":"left","baseline":"alphabetic","font":"Liberation Serif","fontSize":17,"color":"#000"},"encoding":{"text":{"field":"label"}}},
{"data":{"name":"texts"},"transform":[{"filter":"datum.role === 'shift'"}],"mark":{"type":"text","align":"center","baseline":"alphabetic","font":"Liberation Serif","fontSize":17.5,"color":"#000"},"encoding":{"text":{"field":"label"}}},
{"data":{"name":"texts"},"transform":[{"filter":"datum.role === 'band'"}],"mark":{"type":"text","align":"center","baseline":"alphabetic","font":"Liberation Serif","fontWeight":"bold","fontSize":20,"color":"#000"},"encoding":{"text":{"field":"label"}}},
{"data":{"name":"texts"},"transform":[{"filter":"datum.role === 'omega'"}],"mark":{"type":"text","align":"center","baseline":"alphabetic","font":"Liberation Serif","fontStyle":"italic","fontSize":20,"color":"#000"},"encoding":{"text":{"field":"label"}}}
]
}
